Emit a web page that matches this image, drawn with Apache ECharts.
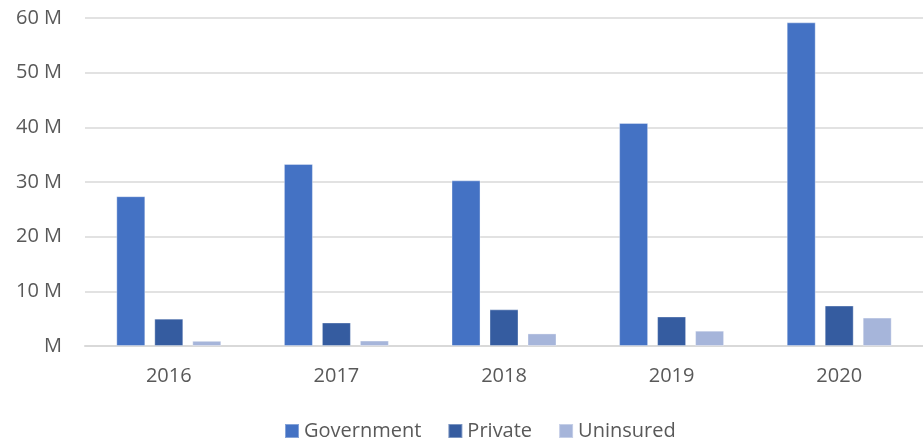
<!DOCTYPE html>
<html>
<head>
<meta charset="utf-8">
<script src="https://cdn.jsdelivr.net/npm/echarts@6/dist/echarts.min.js"></script>
<style>
  html, body { margin: 0; padding: 0; background: #ffffff; }
  #chart { width: 923px; height: 444px; }
</style>
</head>
<body>
<div id="chart"></div>
<script>
// Coverage totals by payer, in millions
const years = ['2016', '2017', '2018', '2019', '2020'];
const government = [27.4, 33.3, 30.3, 40.8, 59.2];
const privateIns = [5.0, 4.3, 6.7, 5.4, 7.4];
const uninsured = [0.95, 1.0, 2.3, 2.8, 5.2];
const yTicks = [0, 10, 20, 30, 40, 50, 60];

const FONT = '"Open Sans", "Liberation Sans", sans-serif';
const TEXT = '#595959';
const GRID_LINE = '#d9d9d9';

const chart = echarts.init(document.getElementById('chart'));

function barSeries(name, data, color) {
  return {
    name: name,
    type: 'bar',
    data: data,
    barWidth: 29,
    barGap: '31%',
    itemStyle: {
      color: color,
      borderColor: 'rgba(255,255,255,0.35)',
      borderWidth: 1
    }
  };
}

chart.setOption({
  animation: false,
  backgroundColor: '#ffffff',
  textStyle: { fontFamily: FONT },
  grid: { left: 85, right: 0, top: 18, bottom: 98 },
  legend: {
    top: 416,
    left: 279,
    itemWidth: 14,
    itemHeight: 14,
    itemGap: 26,
    icon: 'rect',
    textStyle: { color: TEXT, fontSize: 20, fontFamily: FONT, padding: [0, 0, 0, 0] },
    data: ['Government', 'Private', 'Uninsured']
  },
  xAxis: {
    type: 'category',
    data: years,
    axisLine: { lineStyle: { color: GRID_LINE, width: 2 } },
    axisTick: { show: false },
    axisLabel: { color: TEXT, fontSize: 20, margin: 20, fontFamily: FONT }
  },
  yAxis: {
    type: 'value',
    min: yTicks[0],
    max: yTicks[yTicks.length - 1],
    interval: yTicks[1] - yTicks[0],
    axisLine: { show: false },
    axisTick: { show: false },
    splitLine: { lineStyle: { color: GRID_LINE, width: 1.5 } },
    axisLabel: {
      color: TEXT,
      fontSize: 20,
      margin: 23,
      fontFamily: FONT,
      formatter: v => (v === 0 ? 'M' : v + ' M')
    }
  },
  series: [
    barSeries('Government', government, '#4472c4'),
    barSeries('Private', privateIns, '#355ca0'),
    barSeries('Uninsured', uninsured, '#a6b5da')
  ]
});
</script>
</body>
</html>
